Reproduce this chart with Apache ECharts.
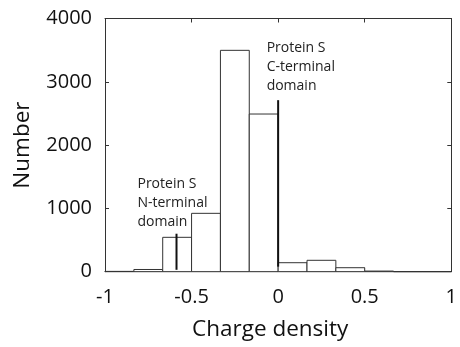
<!DOCTYPE html>
<html><head><meta charset="utf-8">
<script src="https://cdn.jsdelivr.net/npm/echarts@6/dist/echarts.min.js"></script>
<style>html,body{margin:0;padding:0;background:#fff}#c{width:460px;height:347px}</style>
</head><body><div id="c"></div>
<script>
const binEdges = [-1, -0.8333, -0.6667, -0.5, -0.3333, -0.1667, 0, 0.1667, 0.3333, 0.5, 0.6667, 0.8333, 1];
const counts = [5, 35, 543, 922, 3497, 2491, 142, 180, 63, 10, 0, 0];
const xTicks = [-1, -0.5, 0, 0.5, 1];
const yTicks = [0, 1000, 2000, 3000, 4000];
const annotLabels = ['Protein S\nN-terminal\ndomain', 'Protein S\nC-terminal\ndomain'];
const annotX = [-0.587, 0];
const annotTop = [600, 2710];
const annotBottom = [30, 80];
const annotTextX = [-0.8125, -0.0665];
const annotTextY = [630, 2790];

const font = '"Open Sans", "Noto Sans", sans-serif';
const chart = echarts.init(document.getElementById('c'));
const bins = counts.map((c, i) => [binEdges[i], binEdges[i + 1], c]);
const annots = annotX.map((x, i) => [x, annotTop[i], annotBottom[i], annotTextX[i], annotTextY[i], annotLabels[i]]);
const axisCommon = {
  axisLine: {show: true, onZero: false, lineStyle: {color: '#333', width: 1}},
  axisTick: {show: true, inside: true, length: 4, lineStyle: {color: '#333'}},
  splitLine: {show: false}
};
chart.setOption({
  animation: false,
  backgroundColor: '#fff',
  grid: {left: 105, right: 3, top: 18.5, bottom: 75.3, containLabel: false},
  xAxis: [
    Object.assign({}, axisCommon, {
      type: 'value', min: -1, max: 1, interval: 0.5, position: 'bottom',
      name: 'Charge density', nameLocation: 'middle', nameGap: 46,
      nameTextStyle: {fontSize: 22.5, color: '#111', fontFamily: font, padding: [0, 16, 0, 0]},
      axisLabel: {fontSize: 20, color: '#111', fontFamily: font, margin: 16,
        formatter: v => xTicks.includes(v) ? String(v) : ''}
    }),
    Object.assign({}, axisCommon, {
      type: 'value', min: -1, max: 1, interval: 0.5, position: 'top',
      axisLabel: {show: false}
    })
  ],
  yAxis: [
    Object.assign({}, axisCommon, {
      type: 'value', min: 0, max: 4000, interval: 1000, position: 'left',
      name: 'Number', nameLocation: 'middle', nameGap: 71,
      nameTextStyle: {fontSize: 22.5, color: '#111', fontFamily: font},
      axisLabel: {fontSize: 20, color: '#111', fontFamily: font, margin: 13,
        formatter: v => yTicks.includes(v) ? String(v) : ''}
    }),
    Object.assign({}, axisCommon, {
      type: 'value', min: 0, max: 4000, interval: 1000, position: 'right',
      axisLabel: {show: false}
    })
  ],
  series: [
    {
      type: 'custom', xAxisIndex: 0, yAxisIndex: 0, data: bins,
      renderItem: (params, api) => {
        const p0 = api.coord([api.value(0), api.value(2)]);
        const p1 = api.coord([api.value(1), 0]);
        return {type: 'rect', shape: {x: p0[0], y: p0[1], width: p1[0] - p0[0], height: p1[1] - p0[1]},
          style: {fill: '#fff', stroke: '#333', lineWidth: 1}};
      }
    },
    {
      type: 'custom', xAxisIndex: 0, yAxisIndex: 0, data: annots,
      renderItem: (params, api) => {
        const d = annots[params.dataIndex];
        const t = api.coord([d[0], d[1]]);
        const b = api.coord([d[0], d[2]]);
        const tp = api.coord([d[3], d[4]]);
        return {type: 'group', children: [
          {type: 'line', shape: {x1: t[0], y1: t[1], x2: b[0], y2: b[1]}, style: {stroke: '#111', lineWidth: 2}},
          {type: 'text', x: tp[0], y: tp[1], style: {text: d[5], fontSize: 14, lineHeight: 19, fontFamily: font,
            fill: '#222', align: 'left', verticalAlign: 'bottom'}}
        ]};
      }
    }
  ]
});
</script></body></html>
